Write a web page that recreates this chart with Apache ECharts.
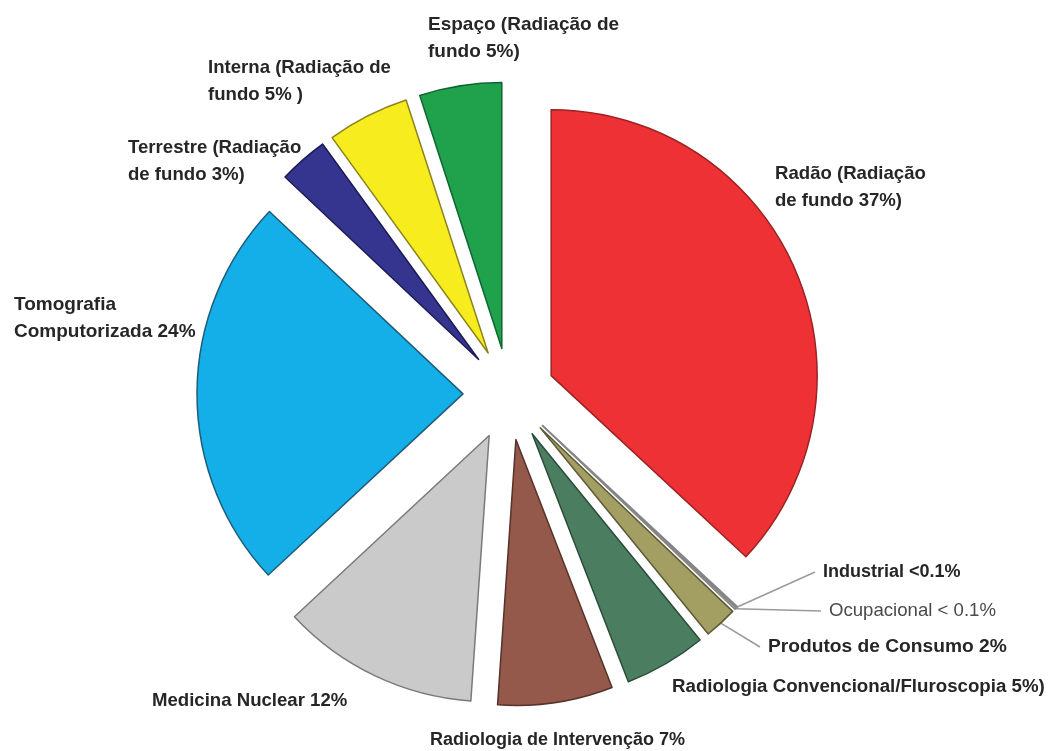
<!DOCTYPE html>
<html>
<head>
<meta charset="utf-8">
<script src="https://cdn.jsdelivr.net/npm/echarts@6/dist/echarts.min.js"></script>
<style>
  html, body { margin: 0; padding: 0; background: #ffffff; }
  #chart { width: 1049px; height: 751px; }
</style>
</head>
<body>
<div id="chart"></div>
<script>
// Sources of radiation exposure, clockwise from 12 o'clock
const categories = [
  'Radão', 'Industrial', 'Ocupacional', 'Produtos de Consumo',
  'Radiologia Convencional/Fluroscopia', 'Radiologia de Intervenção',
  'Medicina Nuclear', 'Tomografia Computorizada', 'Terrestre', 'Interna', 'Espaço'
];
const shares = [37, 0.1, 0.1, 2, 5, 7, 12, 24, 3, 5, 5];
const labelTexts = [
  'Radão (Radiação\nde fundo 37%)',
  'Industrial <0.1%',
  'Ocupacional < 0.1%',
  'Produtos de Consumo 2%',
  'Radiologia Convencional/Fluroscopia 5%)',
  'Radiologia de Intervenção 7%',
  'Medicina Nuclear 12%',
  'Tomografia\nComputorizada 24%',
  'Terrestre (Radiação\nde fundo 3%)',
  'Interna (Radiação de\nfundo 5% )',
  'Espaço (Radiação de\nfundo 5%)'
];

// fill / outline per slice
const fills = ['#ee3134', '#dedede', '#dedede', '#a39e62', '#4b7e60', '#94594a',
               '#cacaca', '#14aee8', '#35358f', '#f7ec1e', '#20a14b'];
const outlines = ['#9c2224', '#858585', '#858585', '#5d5a36', '#2b4c39', '#56332a',
                  '#7a7a7a', '#1f5d78', '#1b1b55', '#8c8420', '#0f6630'];

// where each label block sits (left edge, vertical centre) and its type size
const labelSpots = [
  [775, 187], [815, 572], [821, 611], [760, 647], [672, 687], [430, 740],
  [152, 701], [14, 318], [128, 161], [208, 81], [428, 38]
];
const labelSizes = [18.6, 18, 18.6, 19.2, 18.7, 18, 18.6, 19, 18.6, 18.6, 19];
const withLeader = [false, true, true, true, false, false, false, false, false, false, false];

const PIE_CENTER = [509, 394];
const PIE_RADIUS = 266;
const EXPLODE = 46;

const chart = echarts.init(document.getElementById('chart'), null, { renderer: 'canvas' });

// exploded slices
const sliceData = categories.map((name, i) => ({
  name: name,
  value: shares[i],
  selected: true,
  itemStyle: { color: fills[i], borderColor: outlines[i], borderWidth: 1.5 }
}));

// invisible twin reaching the exploded rims; carries the labels and leaders
const labelData = categories.map((name, i) => ({
  name: name,
  value: shares[i],
  label: {
    formatter: labelTexts[i],
    fontSize: labelSizes[i],
    fontWeight: i === 2 ? 'normal' : 'bold',
    color: i === 2 ? '#4a4a4a' : '#262626',
    padding: withLeader[i] ? [0, 0, 0, 8] : 0
  },
  labelLine: { show: withLeader[i] }
}));

chart.setOption({
  animation: false,
  backgroundColor: '#ffffff',
  series: [{
    type: 'pie',
    center: PIE_CENTER,
    radius: PIE_RADIUS,
    startAngle: 90,
    clockwise: true,
    selectedMode: 'multiple',
    selectedOffset: EXPLODE,
    silent: true,
    emphasis: { disabled: true },
    label: { show: false },
    labelLine: { show: false },
    data: sliceData
  }, {
    type: 'pie',
    center: PIE_CENTER,
    radius: PIE_RADIUS + EXPLODE,
    startAngle: 90,
    clockwise: true,
    silent: true,
    avoidLabelOverlap: false,
    emphasis: { disabled: true },
    itemStyle: { color: 'rgba(0,0,0,0)', borderWidth: 0 },
    label: {
      show: true,
      position: 'outside',
      fontFamily: '"Liberation Sans", Arial, sans-serif',
      fontSize: 18,
      lineHeight: 27
    },
    labelLine: {
      show: true,
      length: 10,
      length2: 0,
      lineStyle: { color: '#9a9a9a', width: 1.5 }
    },
    labelLayout: function (params) {
      const spot = labelSpots[params.dataIndex];
      return { x: spot[0], y: spot[1], align: 'left', verticalAlign: 'middle' };
    },
    data: labelData
  }]
});
</script>
</body>
</html>
